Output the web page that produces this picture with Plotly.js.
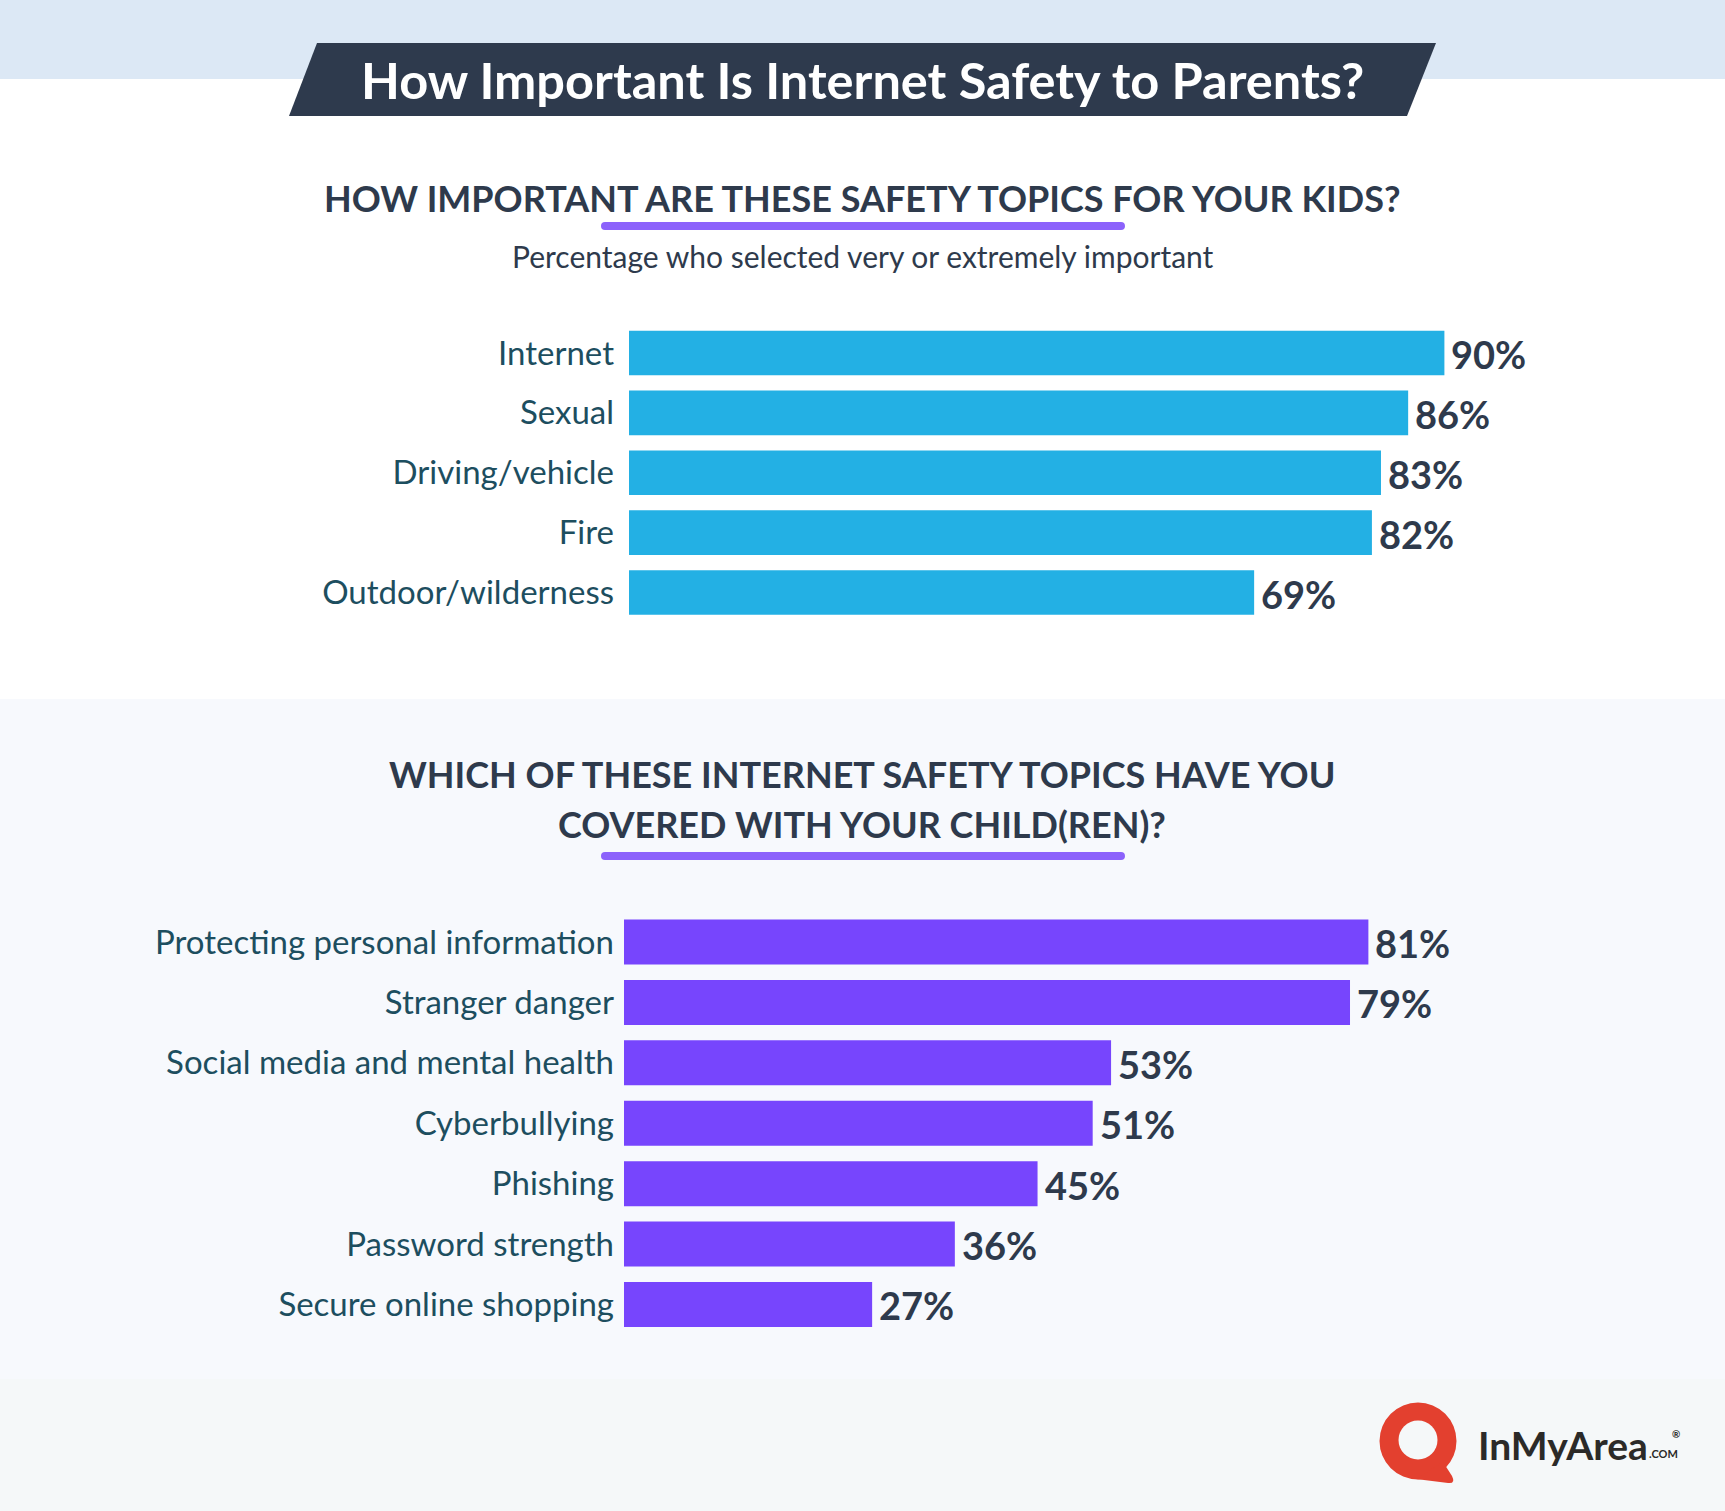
<!DOCTYPE html>
<html>
<head>
<meta charset="utf-8">
<script src="https://cdn.plot.ly/plotly-3.0.1.min.js"></script>
<style>
  html, body { margin: 0; padding: 0; background: #ffffff; }
  #chart { width: 1725px; height: 1511px; }
</style>
</head>
<body>
<div id="chart"></div>
<script>
// data
const safetyTopics = ['Internet', 'Sexual', 'Driving/vehicle', 'Fire', 'Outdoor/wilderness'];
const safetyValues = [90, 86, 83, 82, 69];

const onlineTopics = [
    'Protecting personal information',
    'Stranger danger',
    'Social media and mental health',
    'Cyberbullying',
    'Phishing',
    'Password strength',
    'Secure online shopping'
];
const onlineValues = [81, 79, 53, 51, 45, 36, 27];

const W = 1725, H = 1511;
const X = px => px / W;
const Y = py => 1 - py / H;
const P = (x, y) => X(x).toFixed(5) + ',' + Y(y).toFixed(5);

const DARK = '#2e3a4c';
const TEAL = '#1d4e5f';
const BLUE = '#23b0e4';
const PURPLE = '#7745fd';
const LINE = '#8c62fb';
const MID_BG = '#f7f9fd';
const FOOT_BG = '#f5f8f9';

function rect(x0, y0, x1, y1, color) {
    return { type: 'rect', xref: 'paper', yref: 'paper', layer: 'below',
        x0: X(x0), x1: X(x1), y0: Y(y1), y1: Y(y0),
        fillcolor: color, line: { width: 0 } };
}

function pill(x0, x1, yc) {
    const r = 4, t = yc - r, b = yc + r;
    const d = 'M' + P(x0 + r, t) + ' L' + P(x1 - r, t) +
        ' Q' + P(x1, t) + ' ' + P(x1, yc) + ' Q' + P(x1, b) + ' ' + P(x1 - r, b) +
        ' L' + P(x0 + r, b) + ' Q' + P(x0, b) + ' ' + P(x0, yc) +
        ' Q' + P(x0, t) + ' ' + P(x0 + r, t) + ' Z';
    return { type: 'path', xref: 'paper', yref: 'paper', path: d,
        fillcolor: LINE, line: { width: 0 } };
}

function circle(cx, cy, r, color) {
    return { type: 'circle', xref: 'paper', yref: 'paper',
        x0: X(cx - r), x1: X(cx + r), y0: Y(cy + r), y1: Y(cy - r),
        fillcolor: color, line: { width: 0 } };
}

function text(str, x, y, size, color, weight, xanchor) {
    return { text: str, xref: 'paper', yref: 'paper', x: X(x), y: Y(y),
        xanchor: xanchor || 'center', yanchor: 'middle', showarrow: false,
        font: { family: 'Lato, sans-serif', size: size, color: color, weight: weight || 'normal' } };
}

const shapes = [
    rect(0, 0, W, 79, '#dce8f5'),
    rect(0, 699, W, 1379, MID_BG),
    rect(0, 1379, W, H, FOOT_BG),
    { type: 'path', xref: 'paper', yref: 'paper',
      path: 'M' + P(317, 43) + ' L' + P(1436, 43) + ' L' + P(1407, 116) + ' L' + P(289, 116) + ' Z',
      fillcolor: '#2e3a4d', line: { width: 0 } },
    pill(601, 1125, 226),
    pill(601, 1125, 856),
    // logo bubble
    circle(1418, 1441, 38.5, '#e3402f'),
    { type: 'path', xref: 'paper', yref: 'paper',
      path: 'M' + P(1416, 1479) + ' L' + P(1448, 1483) + ' Q' + P(1456, 1484) + ' ' + P(1452, 1476) +
            ' L' + P(1443, 1462) + ' Z',
      fillcolor: '#e3402f', line: { width: 0 } },
    circle(1418, 1440, 19.5, FOOT_BG)
];

const annotations = [
    text('How Important Is Internet Safety to Parents?', 862, 80, 50.5, '#ffffff', 'bold'),
    text('HOW IMPORTANT ARE THESE SAFETY TOPICS FOR YOUR KIDS?', 862, 198, 36, DARK, 'bold'),
    text('Percentage who selected very or extremely important', 863, 256, 30, DARK),
    text('WHICH OF THESE INTERNET SAFETY TOPICS HAVE YOU', 862, 774, 36, DARK, 'bold'),
    text('COVERED WITH YOUR CHILD(REN)?', 862, 824, 36, DARK, 'bold'),
    text('InMyArea', 1476, 1445, 39, '#2b2a28', 'bold', 'left'),
    text('.COM', 1647, 1453, 11, '#2b2a28', 'bold', 'left'),
    text('®', 1676, 1434, 10, '#2b2a28', 'bold', 'center')
];

// value labels just right of each bar end, placed in data coordinates
const valueFont = { family: 'Lato, sans-serif', size: 38, color: DARK, weight: 'bold' };
safetyTopics.forEach((t, i) => annotations.push({
    text: safetyValues[i] + '%', x: safetyValues[i], y: t, xref: 'x', yref: 'y',
    xanchor: 'left', yanchor: 'middle', xshift: 5, yshift: -1, showarrow: false, font: valueFont
}));
onlineTopics.forEach((t, i) => annotations.push({
    text: onlineValues[i] + '%', x: onlineValues[i], y: t, xref: 'x2', yref: 'y2',
    xanchor: 'left', yanchor: 'middle', xshift: 5, yshift: -1, showarrow: false, font: valueFont
}));

const traces = [
    {
        type: 'bar', orientation: 'h',
        x: safetyValues, y: safetyTopics,
        xaxis: 'x', yaxis: 'y',
        marker: { color: BLUE, line: { width: 0 } },
        hoverinfo: 'none'
    },
    {
        type: 'bar', orientation: 'h',
        x: onlineValues, y: onlineTopics,
        xaxis: 'x2', yaxis: 'y2',
        marker: { color: PURPLE, line: { width: 0 } },
        hoverinfo: 'none'
    }
];

const xCommon = { range: [0, 100], showgrid: false, zeroline: false, showline: false,
    showticklabels: false, ticks: '', fixedrange: true };
const yCommon = { type: 'category', showgrid: false, zeroline: false, showline: false,
    ticks: '', fixedrange: true,
    tickfont: { family: 'Lato, sans-serif', size: 33, color: TEAL } };

const layout = {
    width: W, height: H,
    margin: { l: 0, r: 0, t: 0, b: 0, pad: 0 },
    paper_bgcolor: '#ffffff',
    plot_bgcolor: 'rgba(0,0,0,0)',
    showlegend: false,
    bargap: 0.255,
    xaxis: Object.assign({}, xCommon, { domain: [X(629), X(1535)], anchor: 'y' }),
    yaxis: Object.assign({}, yCommon, { domain: [Y(622.5), Y(323)], anchor: 'x',
        range: [safetyTopics.length - 0.5, -0.5], ticklabelstandoff: 14 }),
    xaxis2: Object.assign({}, xCommon, { domain: [X(624), X(1543)], anchor: 'y2' }),
    yaxis2: Object.assign({}, yCommon, { domain: [Y(1334.7), Y(911.8)], anchor: 'x2',
        range: [onlineTopics.length - 0.5, -0.5], ticklabelstandoff: 9 }),
    shapes: shapes,
    annotations: annotations
};

Plotly.newPlot('chart', traces, layout, { staticPlot: true, displayModeBar: false });
</script>
</body>
</html>
